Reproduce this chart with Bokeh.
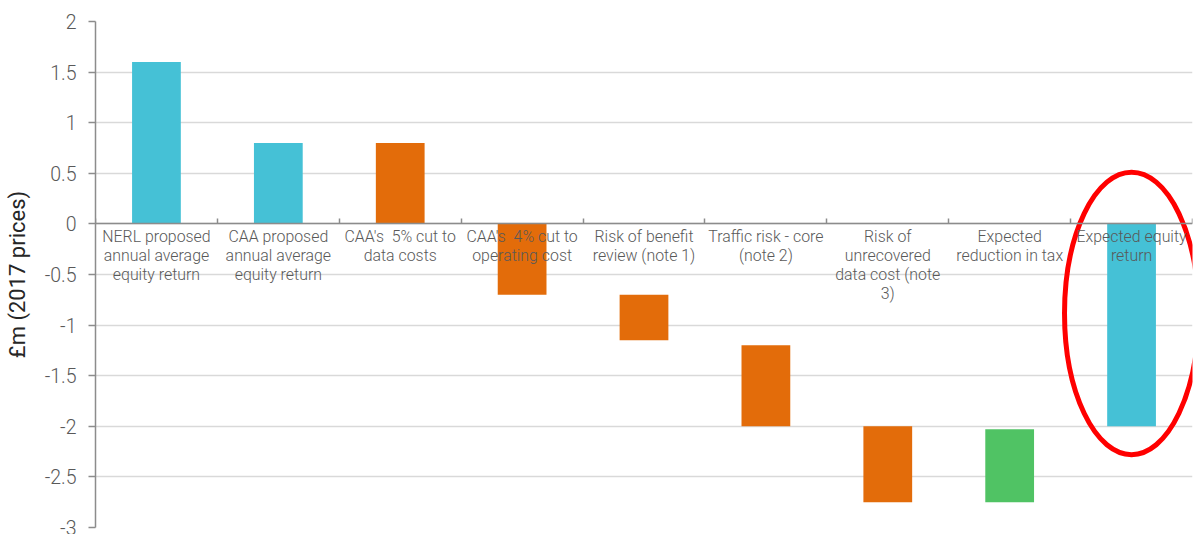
from bokeh.plotting import figure
from bokeh.models import Range1d, LinearAxis, FixedTicker, ColumnDataSource
from bokeh.transform import factor_cmap
from bokeh.embed import file_html
from bokeh.resources import INLINE

# Waterfall of equity return adjustments (GBP m, 2017 prices)
categories = [
    "NERL proposed\nannual average\nequity return",
    "CAA proposed\nannual average\nequity return",
    "CAA's\u00a0 5% cut to\ndata costs",
    "CAA's\u00a0 4% cut to\noperating cost",
    "Risk of benefit\nreview (note 1)",
    "Traffic risk - core\n(note 2)",
    "Risk of\nunrecovered\ndata cost (note\n3)",
    "Expected\nreduction in tax",
    "Expected equity\nreturn",
]
bar_bottom = [0, 0, 0, -0.7, -1.15, -2.0, -2.75, -2.75, -2.0]
bar_top = [1.6, 0.8, 0.8, 0, -0.7, -1.2, -2.0, -2.03, 0]
bar_kind = ["return", "return", "adjustment", "adjustment", "adjustment",
            "adjustment", "adjustment", "tax", "return"]
kinds = ["return", "adjustment", "tax"]
kind_colors = ["#45C1D6", "#E36C0A", "#50C364"]

y_ticks = [-3, -2.5, -2, -1.5, -1, -0.5, 0, 0.5, 1, 1.5, 2]
y_tick_labels = ["-3", "-2.5", "-2", "-1.5", "-1", "-0.5", "0", "0.5", "1", "1.5", "2"]

# highlight ring around the final bar
ring_category = 8
ring_center_y = -0.885
ring_width = 1.1
ring_height = 2.79

n = len(categories)
centers = [i + 0.5 for i in range(n)]
boundaries = list(range(n + 1))

source = ColumnDataSource(data=dict(x=centers, bottom=bar_bottom, top=bar_top, kind=bar_kind))

TICK_FONT = "Roboto Light"
TEXT_GREY = "#595959"
AXIS_GREY = "#8C8C8C"

p = figure(width=1195, height=534, output_backend="svg", toolbar_location=None,
           x_range=Range1d(0, n), y_range=Range1d(-3, 2),
           x_axis_location=None,
           min_border_left=95, min_border_right=3, min_border_top=21, min_border_bottom=7,
           outline_line_color=None, background_fill_color="white", border_fill_color="white")

p.xgrid.visible = False
p.ygrid.ticker = FixedTicker(ticks=y_ticks)
p.ygrid.grid_line_color = "#D9D9D9"
p.ygrid.grid_line_width = 1.5

p.yaxis.ticker = FixedTicker(ticks=y_ticks)
p.yaxis.major_label_overrides = {t: s for t, s in zip(y_ticks, y_tick_labels)}
p.yaxis.major_label_text_font = TICK_FONT
p.yaxis.major_label_text_font_size = "19.5px"
p.yaxis.major_label_text_color = TEXT_GREY
p.yaxis.major_label_standoff = 12
p.yaxis.major_tick_out = 7
p.yaxis.major_tick_in = 0
p.yaxis.minor_tick_line_color = None
p.yaxis.major_tick_line_color = AXIS_GREY
p.yaxis.axis_line_color = AXIS_GREY
p.yaxis.axis_line_width = 1.5
p.yaxis.major_tick_line_width = 1.5
p.yaxis.axis_label = "£m (2017 prices)"
p.yaxis.axis_label_text_font = "Roboto"
p.yaxis.axis_label_text_font_style = "normal"
p.yaxis.axis_label_text_font_size = "22px"
p.yaxis.axis_label_text_color = "#262626"
p.yaxis.axis_label_standoff = 12

p.vbar(x="x", bottom="bottom", top="top", width=0.4, source=source,
       fill_color=factor_cmap("kind", kind_colors, kinds), line_color=None)

p.ellipse(x=[centers[ring_category]], y=[ring_center_y], width=ring_width, height=ring_height,
          fill_color=None, line_color="#FF0000", line_width=5)

# category axis along y = 0: boundary ticks, then centred labels
boundary_axis = LinearAxis(ticker=FixedTicker(ticks=boundaries), fixed_location=0,
                           axis_line_color=AXIS_GREY, axis_line_width=1.5,
                           major_tick_line_color=AXIS_GREY, major_tick_line_width=1.5,
                           major_tick_in=5, major_tick_out=0,
                           minor_tick_line_color=None,
                           major_label_overrides={b: "" for b in boundaries})
label_axis = LinearAxis(ticker=FixedTicker(ticks=centers), fixed_location=0,
                        axis_line_color=None, major_tick_line_color=None,
                        minor_tick_line_color=None,
                        major_tick_in=0, major_tick_out=0,
                        major_label_standoff=3,
                        major_label_overrides={c: s for c, s in zip(centers, categories)},
                        major_label_text_font=TICK_FONT,
                        major_label_text_font_size="15.9px",
                        major_label_text_line_height=1.0,
                        major_label_text_color=TEXT_GREY)
p.add_layout(boundary_axis, "below")
p.add_layout(label_axis, "below")

open("out.html", "w").write(file_html(p, INLINE))
